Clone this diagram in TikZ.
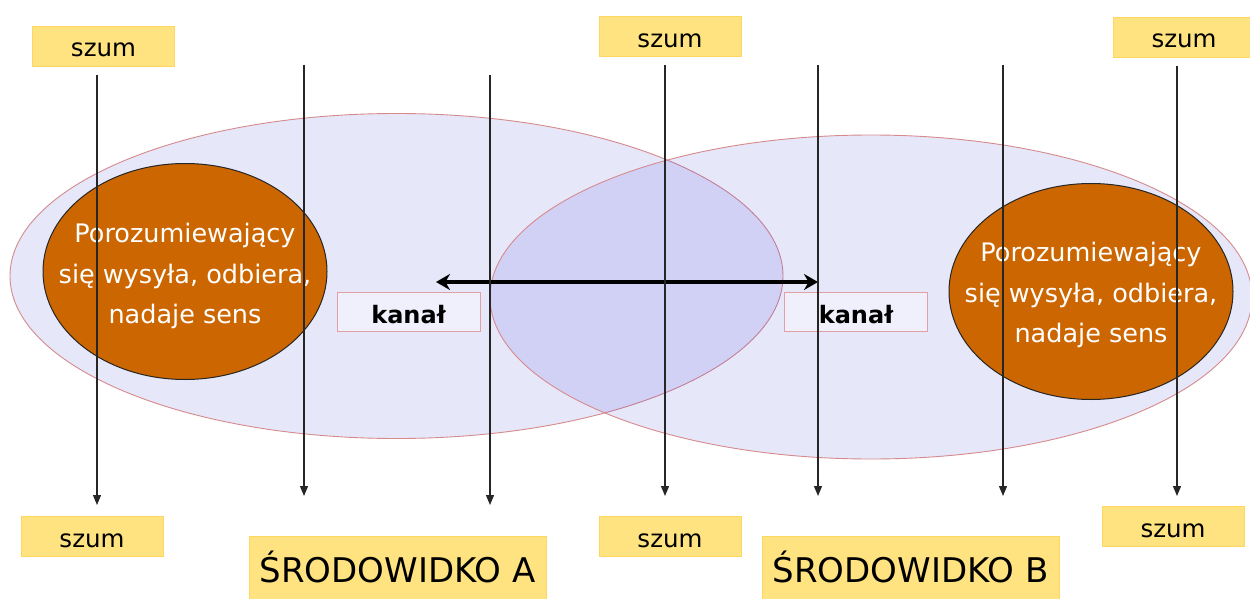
\documentclass[tikz,border=0pt]{standalone}
\usepackage{fontspec}
\setmainfont{DejaVu Sans}
\usetikzlibrary{arrows.meta,shapes.geometric}

\definecolor{envfill}{RGB}{38,38,217}
\definecolor{envedge}{RGB}{214,138,140}
\definecolor{personfill}{RGB}{204,102,0}
\definecolor{notefill}{RGB}{255,227,128}
\definecolor{noteedge}{RGB}{255,214,96}
\definecolor{chanfill}{RGB}{240,240,253}
\definecolor{chanedge}{RGB}{226,160,166}

\tikzset{
  envblob/.style={ellipse, draw=envedge, line width=0.9pt, fill=envfill,
    fill opacity=0.11, inner sep=0pt},
  person/.style={ellipse, draw=black!85, line width=1pt, fill=personfill,
    inner sep=0pt, minimum width=284pt, minimum height=216pt},
  persontext/.style={text=white, align=center, inner sep=0pt,
    font=\fontsize{25.5}{40.5}\selectfont},
  chanbox/.style={draw=chanedge, line width=0.8pt, fill=chanfill,
    minimum width=143pt, minimum height=39pt, inner sep=0pt,
    text height=23pt, text depth=0pt, font=\bfseries\fontsize{24}{28}\selectfont},
  noisebox/.style={draw=noteedge, line width=0.6pt, fill=notefill,
    minimum width=142pt, minimum height=40pt, inner sep=0pt,
    text height=22pt, text depth=0pt, font=\fontsize{24.5}{28}\selectfont},
  envlabel/.style={draw=noteedge, line width=1pt, fill=notefill,
    minimum width=297pt, minimum height=69pt, inner sep=0pt,
    text height=23pt, text depth=0pt, font=\fontsize{34}{40}\selectfont},
  noise/.style={draw=black!85, line width=1.2pt, -{Triangle[length=10pt,width=8pt]}},
  link/.style={draw=black, line width=4pt,
    {Stealth[length=14pt,width=16pt]}-{Stealth[length=14pt,width=16pt]}}
}

\begin{document}
\begin{tikzpicture}[x=1pt,y=-1pt]
\useasboundingbox (0,0) rectangle (1250,599);
\fill[white] (0,0) rectangle (1250,599);

% the two environments
\node[envblob, minimum width=773pt, minimum height=325pt] (envA) at (396.5,276) {};
\node[envblob, minimum width=762pt, minimum height=324pt] (envB) at (871,297) {};

% the communicating persons
\node[person] (persA) at (185,271.5) {};
\node[person] (persB) at (1091,291.5) {};
\node[persontext] (txtA) at (185,276) {Porozumiewający\\się wysyła, odbiera,\\nadaje sens};
\node[persontext] (txtB) at (1091,295) {Porozumiewający\\się wysyła, odbiera,\\nadaje sens};

% channel labels
\node[chanbox] (chA) at (408.5,311.5) {kanał};
\node[chanbox] (chB) at (856,311.5) {kanał};

% two-way channel
\coordinate (linkA) at (436,282);
\coordinate (linkB) at (818,282);
\draw[link] (linkA) -- (linkB);

% noise lines
\foreach \i/\x/\ya/\yb in {1/97/75/505, 2/304/65/496, 3/490/75/505, 4/665/65/496,
                           5/818/65/496, 6/1003/65/496, 7/1177/66/496}{
  \coordinate (ns\i) at (\x,\ya);
  \coordinate (ne\i) at (\x,\yb);
  \draw[noise] (ns\i) -- (ne\i);
}

% noise notes
\node[noisebox] (szTL) at (103.5,46) {szum};
\node[noisebox] (szTM) at (670,36.5) {szum};
\node[noisebox] (szTR) at (1184,37) {szum};
\node[noisebox] (szBL) at (92,536.5) {szum};
\node[noisebox] (szBM) at (670,536.5) {szum};
\node[noisebox] (szBR) at (1173,526) {szum};

% environment labels
\node[envlabel] (labA) at (397.5,570.5) {ŚRODOWIDKO A};
\node[envlabel] (labB) at (910.5,570.5) {ŚRODOWIDKO B};
\end{tikzpicture}
\end{document}
